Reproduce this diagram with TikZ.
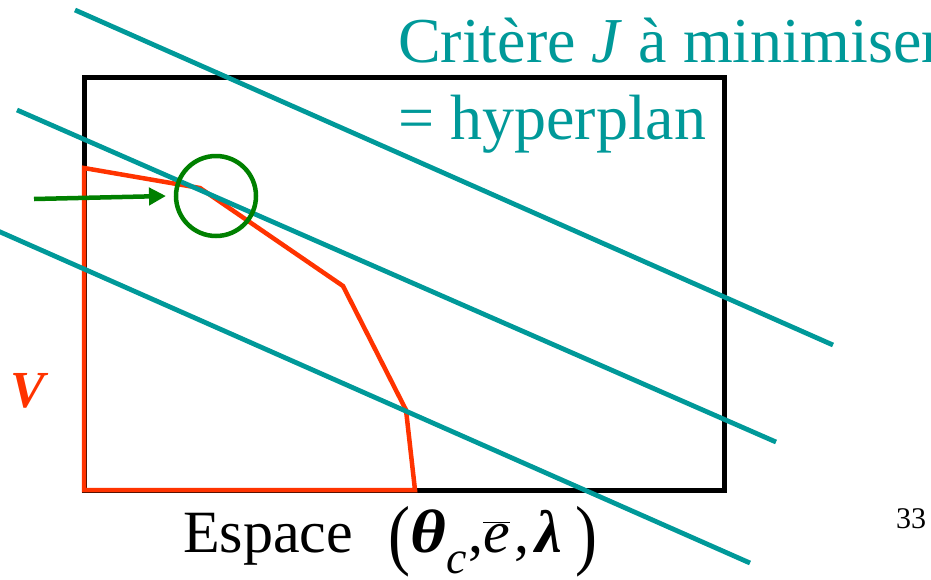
\documentclass[tikz,border=0pt]{standalone}
\usepackage{fontspec}
\usepackage{graphicx}
\setmainfont{Liberation Serif}
\usetikzlibrary{arrows.meta}
\definecolor{tealc}{RGB}{0,153,153}
\definecolor{redc}{RGB}{255,51,0}
\definecolor{greenc}{RGB}{0,128,0}
\tikzset{
  plane/.style={draw=tealc, line width=4.8pt},
  admdomain/.style={draw=redc, line width=4.5pt, line join=miter},
  frame/.style={draw=black, line width=5pt},
  lbl/.style={inner sep=0pt, anchor=base west},
}
\newcommand{\bigparen}[1]{\raisebox{-8pt}{\scalebox{1.1}[1.3]{#1}}}
\begin{document}
\begin{tikzpicture}[x=1pt,y=-1pt]
\useasboundingbox (0,0) rectangle (931,579);
\clip (0,0) rectangle (931,579);
% frame
\draw[frame] (84,77) rectangle (724,490);
% admissible domain
\draw[admdomain] (84,490) -- (84,168) -- (200,188) -- (343,286) -- (406,410) -- (415,490) -- cycle;
% hyperplanes
\draw[plane] (75,10) -- (833,345);
\draw[plane] (17,110) -- (776,442);
\draw[plane] (-2,231) -- (750,563);
% optimum
\node[draw=greenc, line width=4.5pt, circle, minimum size=80pt, inner sep=0pt] (opt) at (216,196) {};
\coordinate (arrstart) at (34,199);
\coordinate (arrend) at (166,196);
\draw[greenc, line width=4.5pt, -{Triangle[length=17pt,width=17pt]}] (arrstart) -- (arrend);
% texts
\node[lbl, text=tealc, font=\fontsize{64}{70}\selectfont] (crit) at (398,62) {Critère \textit{J} à minimiser};
\node[lbl, text=tealc, font=\fontsize{64}{70}\selectfont] (hyp) at (398,139) {= hyperplan};
\node[lbl, text=redc, font=\fontsize{52}{60}\selectfont\bfseries\itshape] (V) at (10,407) {V};
\node[lbl, font=\fontsize{60}{66}\selectfont] (esp) at (183,552) {%
\makebox[205pt][l]{Espace}%
\makebox[22pt][l]{\bigparen{(}}%
\makebox[36pt][l]{\scalebox{1.15}[1.02]{\bfseries\itshape θ}}%
\makebox[22pt][l]{\raisebox{-21pt}{\fontsize{46}{50}\selectfont\itshape c}}%
\makebox[15pt][l]{,}%
\makebox[31pt][l]{$\overline{\mbox{\itshape e}}$}%
\makebox[21pt][l]{,}%
\makebox[40pt][l]{\bfseries\itshape λ}%
\bigparen{)}};
\node[lbl, font=\fontsize{30}{34}\selectfont] (pg) at (896,528) {33};
\end{tikzpicture}
\end{document}
